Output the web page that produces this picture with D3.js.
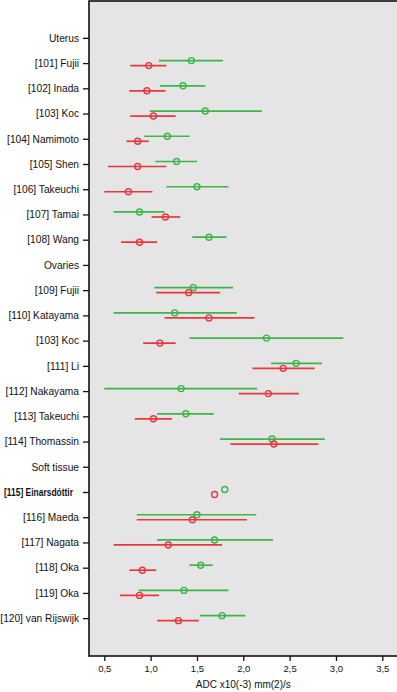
<!DOCTYPE html>
<html>
<head>
<meta charset="utf-8">
<script src="https://cdn.jsdelivr.net/npm/d3@7"></script>
<style>
  body { margin: 0; background: #fff; }
  svg { display: block; font-family: 'Liberation Sans', Arial, sans-serif; }
</style>
</head>
<body>
<div id="chart"></div>
<script>
// Row labels (group headers included), top to bottom
const rows = ['Uterus', '[101] Fujii', '[102] Inada', '[103] Koc', '[104] Namimoto', '[105] Shen',
  '[106] Takeuchi', '[107] Tamai', '[108] Wang', 'Ovaries', '[109] Fujii', '[110] Katayama',
  '[103] Koc', '[111] Li', '[112] Nakayama', '[113] Takeuchi', '[114] Thomassin', 'Soft tissue',
  '[115] Einarsdóttir', '[116] Maeda', '[117] Nagata', '[118] Oka', '[119] Oka', '[120] van Rijswijk']

// Green series (mean, lower, upper); null for header rows
const greenMean = [null, 1.44, 1.35, 1.59, 1.18, 1.28, 1.50, 0.88, 1.63, null, 1.46, 1.26,
  2.25, 2.57, 1.33, 1.38, 2.31, null, 1.80, 1.50, 1.69, 1.54, 1.36, 1.77]
const greenLo = [null, 1.09, 1.10, 0.99, 0.93, 1.05, 1.17, 0.60, 1.45, null, 1.04, 0.60,
  1.42, 2.30, 0.50, 1.07, 1.75, null, null, 0.85, 1.07, 1.42, 0.87, 1.53]
const greenHi = [null, 1.78, 1.59, 2.20, 1.42, 1.50, 1.84, 1.15, 1.82, null, 1.89, 1.93,
  3.08, 2.85, 2.15, 1.68, 2.88, null, null, 2.14, 2.32, 1.67, 1.84, 2.02]

// Red series (mean, lower, upper)
const redMean = [null, 0.98, 0.96, 1.03, 0.86, 0.86, 0.76, 1.16, 0.88, null, 1.41, 1.63,
  1.10, 2.43, 2.27, 1.03, 2.33, null, 1.69, 1.45, 1.19, 0.91, 0.88, 1.30]
const redLo = [null, 0.78, 0.77, 0.78, 0.74, 0.54, 0.50, 1.01, 0.68, null, 1.06, 1.15,
  0.92, 2.10, 1.95, 0.83, 1.86, null, null, 0.85, 0.60, 0.77, 0.67, 1.07]
const redHi = [null, 1.17, 1.16, 1.27, 0.98, 1.17, 1.02, 1.32, 1.07, null, 1.75, 2.12,
  1.27, 2.77, 2.60, 1.23, 2.81, null, null, 2.04, 1.77, 1.06, 1.09, 1.52]

const xTicks = [0.5, 1.0, 1.5, 2.0, 2.5, 3.0, 3.5]
const xTitle = 'ADC x10(-3) mm(2)/s'

const W = 397
const H = 692
const margin = { top: 1, left: 89, bottom: 36 }
const plotBottom = H - margin.bottom

const svg = d3.select('#chart').append('svg')
  .attr('width', W)
  .attr('height', H)

// One empty slot above and below the rows
const slots = ['_top', ...rows.map((d, i) => 'r' + i), '_bottom']
const y = d3.scalePoint()
  .domain(slots)
  .range([0, plotBottom])
  .padding(0.5)

const x = d3.scaleLinear()
  .domain([0.5, 3.5])
  .range([104.3, 382.3])

// Plot background and frame
svg.append('rect')
  .attr('x', margin.left)
  .attr('y', margin.top)
  .attr('width', W - margin.left + 5)
  .attr('height', plotBottom - margin.top)
  .attr('fill', '#e5e5e5')
  .attr('stroke', '#111')
  .attr('stroke-width', 1.6)

// Axis x
const fmt = d3.format('.1f')
const xAxis = svg.append('g')
  .attr('transform', `translate(0, ${plotBottom})`)
  .call(d3.axisBottom(x).tickValues(xTicks).tickSize(5).tickPadding(4)
    .tickFormat(d => fmt(d).replace('.', ',')))
xAxis.select('.domain').remove()
xAxis.selectAll('line').attr('stroke', '#111').attr('stroke-width', 1.3)
xAxis.selectAll('text').attr('font-size', 9.5).attr('fill', '#111')

svg.append('text')
  .attr('x', x(2.0))
  .attr('y', 688)
  .attr('text-anchor', 'middle')
  .attr('font-size', 10)
  .attr('fill', '#111')
  .text(xTitle)

// Axis y (row labels)
const yAxis = svg.append('g')
  .attr('transform', `translate(${margin.left}, 0)`)
  .call(d3.axisLeft(y).tickValues(slots.slice(1, -1)).tickSize(6).tickPadding(4)
    .tickFormat(d => rows[+d.slice(1)]))
yAxis.select('.domain').remove()
yAxis.selectAll('line').attr('stroke', '#111').attr('stroke-width', 1.3)
yAxis.selectAll('text')
  .attr('font-size', 10.2)
  .attr('fill', '#111')
  .filter(d => rows[+d.slice(1)].includes('Einars'))
  .attr('font-weight', 600)
  .attr('font-size', 10)
  .attr('textLength', 69)
  .attr('lengthAdjust', 'spacingAndGlyphs')
  .attr('dx', -6)

// Draw one series: error bar plus hollow circle
function drawSeries (means, los, his, color, offset) {
  const g = svg.append('g')
  rows.forEach((r, i) => {
    if (means[i] === null) return
    const cy = y('r' + i) + offset
    if (los[i] !== null) {
      g.append('line')
        .attr('x1', x(los[i]))
        .attr('x2', x(his[i]))
        .attr('y1', cy)
        .attr('y2', cy)
        .attr('stroke', color)
        .attr('stroke-width', 1.7)
    }
    g.append('circle')
      .attr('cx', x(means[i]))
      .attr('cy', cy)
      .attr('r', 3)
      .attr('fill', 'none')
      .attr('stroke', color)
      .attr('stroke-width', 1.4)
  })
}

drawSeries(greenMean, greenLo, greenHi, '#3db54a', -2.5)
drawSeries(redMean, redLo, redHi, '#e8383d', 2.5)
</script>
</body>
</html>
